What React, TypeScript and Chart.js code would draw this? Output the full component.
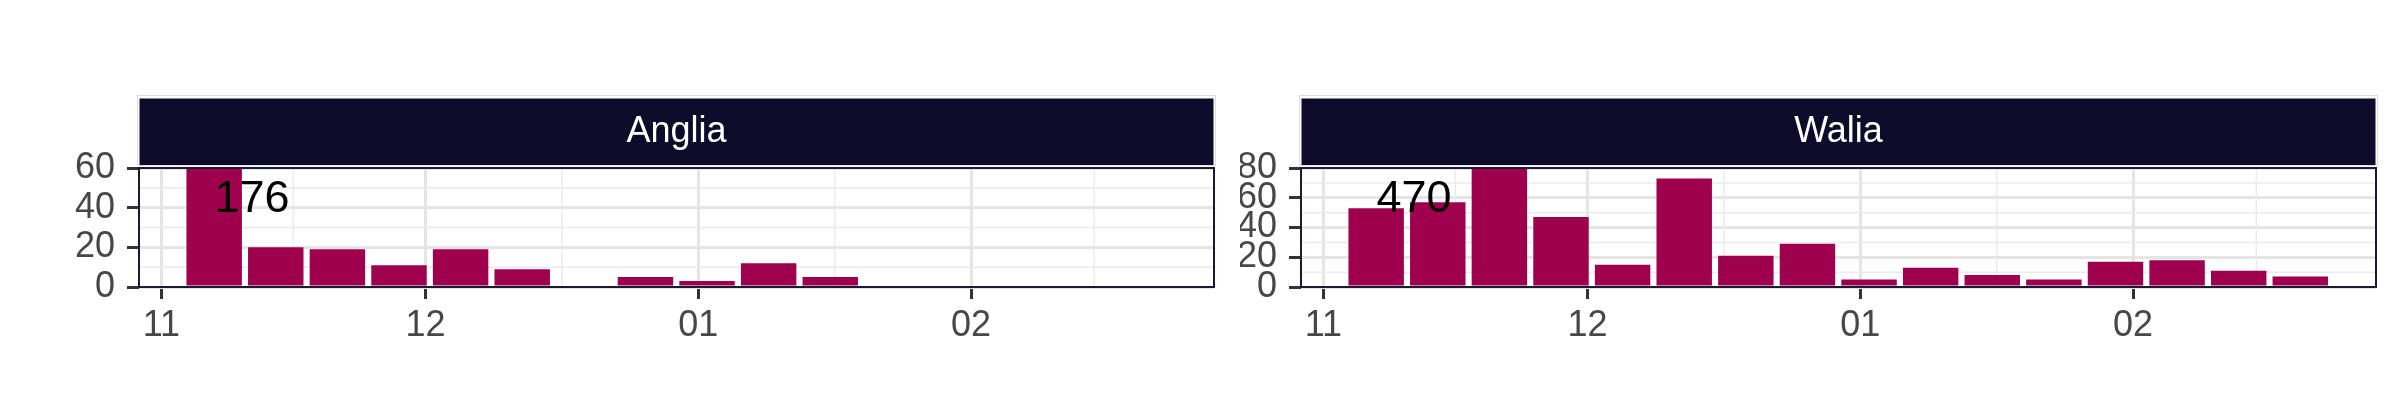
import React, { useEffect, useRef } from "react";
import { Chart, registerables } from "chart.js";
Chart.register(...registerables);

// ---- data ----
const weekDates = [
  "2020-11-07", "2020-11-14", "2020-11-21", "2020-11-28",
  "2020-12-05", "2020-12-12", "2020-12-19", "2020-12-26",
  "2021-01-02", "2021-01-09", "2021-01-16", "2021-01-23",
  "2021-01-30", "2021-02-06", "2021-02-13", "2021-02-20",
];
const angliaValues = [176, 20, 19, 11, 19, 9, 0, 5, 3, 12, 5, 0, 0, 0, 0, 0];
const waliaValues = [53, 57, 470, 47, 15, 73, 21, 29, 5, 13, 8, 5, 17, 18, 11, 7];
const tickDates = ["2020-11-01", "2020-12-01", "2021-01-01", "2021-02-01"];
const tickLabels = ["11", "12", "01", "02"];
const minorTickDates = ["2020-11-16", "2020-12-16T12:00:00Z", "2021-01-16T12:00:00Z", "2021-02-15"];
const angliaYTicks = [0, 20, 40, 60];
const angliaYMinor = [10, 30, 50];
const waliaYTicks = [0, 20, 40, 60, 80];
const waliaYMinor = [10, 30, 50, 70];

const BASE = Date.parse("2020-11-01");
const dayOffset = (d: string) => (Date.parse(d) - BASE) / 86400000;

const FONT = "'Liberation Sans', Arial, Helvetica, sans-serif";
const BAR = "#9E004D";
const STRIP = "#0E0B2A";
const BORDER = "#1C1838";
const TICK_TEXT = "#474747";

type PanelProps = {
  title: string;
  values: number[];
  yTicks: number[];
  yMinor: number[];
  canvasLeft: number;
  canvasWidth: number;
  plotLeft: number;
  plotRight: number;
};

function Panel(props: PanelProps) {
  const ref = useRef<HTMLCanvasElement | null>(null);
  useEffect(() => {
    const { title, values, yTicks, yMinor, canvasWidth, plotLeft, plotRight } = props;
    const yMax = yTicks[yTicks.length - 1];
    const panelPlugin = {
      id: "panelDeco",
      beforeDraw(chart: any) {
        const { ctx, chartArea: a } = chart;
        ctx.save();
        ctx.strokeStyle = "#DDDDDD";
        ctx.lineWidth = 1;
        ctx.strokeRect(a.left - 1.5, a.top - 72.5, a.right - a.left + 3, 70);
        ctx.fillStyle = STRIP;
        ctx.fillRect(a.left + 0.5, a.top - 69.5, a.right - a.left - 1, 66.5);
        ctx.fillStyle = "#FFFFFF";
        ctx.font = `36px ${FONT}`;
        ctx.textAlign = "center";
        ctx.textBaseline = "middle";
        ctx.fillText(title, (a.left + a.right) / 2, a.top - 36);
        ctx.restore();
      },
      beforeDatasetsDraw(chart: any) {
        const { ctx, chartArea: a, scales } = chart;
        ctx.save();
        ctx.beginPath();
        ctx.rect(a.left, a.top, a.right - a.left, a.bottom - a.top);
        ctx.clip();
        ctx.strokeStyle = "#EBEBEB";
        ctx.lineWidth = 1.5;
        minorTickDates.forEach((d) => {
          const x = scales.x.getPixelForValue(dayOffset(d));
          ctx.beginPath();
          ctx.moveTo(x, a.top);
          ctx.lineTo(x, a.bottom);
          ctx.stroke();
        });
        yMinor.forEach((v) => {
          const y = scales.y.getPixelForValue(v);
          ctx.beginPath();
          ctx.moveTo(a.left, y);
          ctx.lineTo(a.right, y);
          ctx.stroke();
        });
        ctx.restore();
      },
      afterDatasetsDraw(chart: any) {
        const { ctx, chartArea: a, scales } = chart;
        ctx.save();
        const maxVal = Math.max(...values);
        ctx.fillStyle = "#000000";
        ctx.font = `45px ${FONT}`;
        ctx.textAlign = "center";
        ctx.textBaseline = "middle";
        ctx.fillText(String(maxVal), scales.x.getPixelForValue(10.3), scales.y.getPixelForValue(yMax * 0.733));
        ctx.strokeStyle = BORDER;
        ctx.lineWidth = 2;
        ctx.strokeRect(a.left, a.top, a.right - a.left, a.bottom - a.top);
        ctx.restore();
      },
    };

    const chart = new Chart(ref.current as HTMLCanvasElement, {
      type: "bar",
      data: {
        datasets: [
          {
            data: weekDates.map((d, i) => ({ x: dayOffset(d), y: values[i] })),
            backgroundColor: BAR,
            borderWidth: 0,
            barPercentage: 0.9,
            categoryPercentage: 1.0,
          },
        ],
      },
      options: {
        animation: false,
        responsive: false,
        maintainAspectRatio: false,
        devicePixelRatio: 1,
        layout: { padding: { left: 0, right: canvasWidth - plotRight, top: 168, bottom: 73 } },
        plugins: { legend: { display: false }, tooltip: { enabled: false } },
        scales: {
          x: {
            type: "linear",
            min: -2.54,
            max: 119.6,
            offset: false,
            afterBuildTicks: (s: any) => {
              s.ticks = tickDates.map((d) => ({ value: dayOffset(d) }));
            },
            afterFit: (s: any) => {
              s.height = 60;
            },
            ticks: {
              autoSkip: false,
              maxRotation: 0,
              padding: 5,
              color: TICK_TEXT,
              font: { family: FONT, size: 36 },
              callback: (_v: any, i: number) => tickLabels[i],
            },
            grid: {
              offset: false,
              color: "#E5E5E5",
              lineWidth: 3,
              drawTicks: true,
              tickLength: 12,
              tickColor: "#333333",
              tickWidth: 3,
            },
            border: { display: false },
          },
          y: {
            type: "linear",
            min: 0,
            max: yMax,
            afterBuildTicks: (s: any) => {
              s.ticks = yTicks.map((v) => ({ value: v }));
            },
            afterFit: (s: any) => {
              s.width = plotLeft;
            },
            ticks: {
              autoSkip: false,
              padding: 12,
              color: TICK_TEXT,
              font: { family: FONT, size: 36 },
              callback: (v: any) => String(v),
            },
            grid: {
              offset: false,
              color: "#E5E5E5",
              lineWidth: 3,
              drawTicks: true,
              tickLength: 12,
              tickColor: "#333333",
              tickWidth: 3,
            },
            border: { display: false },
          },
        },
      } as any,
      plugins: [panelPlugin],
    });
    return () => chart.destroy();
  }, []);
  return (
    <canvas
      ref={ref}
      width={props.canvasWidth}
      height={420}
      style={{ position: "absolute", left: props.canvasLeft, top: 0, width: props.canvasWidth, height: 420 }}
    />
  );
}

export default function App() {
  return (
    <div style={{ position: "absolute", left: 0, top: 0, width: 2400, height: 420, background: "#FFFFFF" }}>
      <Panel title="Anglia" values={angliaValues} yTicks={angliaYTicks} yMinor={angliaYMinor}
        canvasLeft={0} canvasWidth={1240} plotLeft={139} plotRight={1214} />
      <Panel title="Walia" values={waliaValues} yTicks={waliaYTicks} yMinor={waliaYMinor}
        canvasLeft={1240} canvasWidth={1160} plotLeft={61} plotRight={1136} />
    </div>
  );
}
